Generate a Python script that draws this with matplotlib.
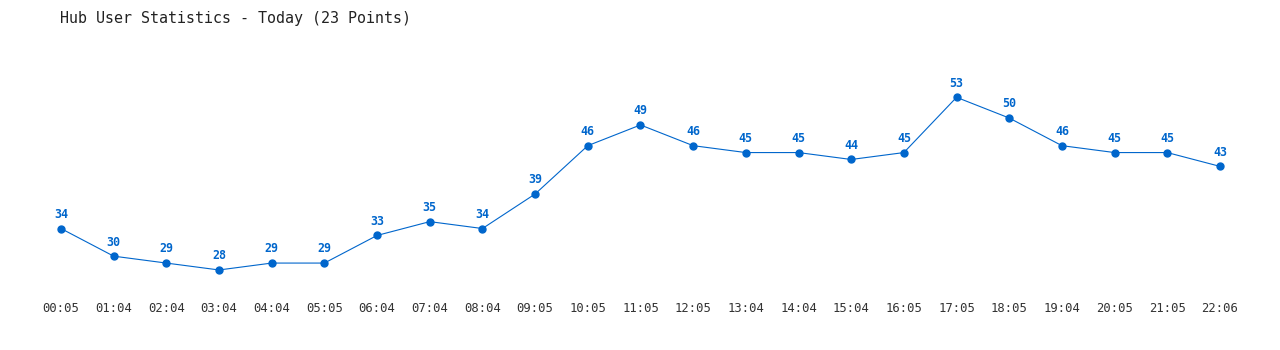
import matplotlib
matplotlib.use("Agg")
import matplotlib.pyplot as plt

TITLE = "Hub User Statistics - Today (23 Points)"
times = ["00:05", "01:04", "02:04", "03:04", "04:04", "05:05", "06:04", "07:04",
         "08:04", "09:05", "10:05", "11:05", "12:05", "13:04", "14:04", "15:04",
         "16:05", "17:05", "18:05", "19:04", "20:05", "21:05", "22:06"]
users = [34, 30, 29, 28, 29, 29, 33, 35, 34, 39, 46, 49, 46, 45, 45, 44, 45,
         53, 50, 46, 45, 45, 43]

BLUE = "#0066cc"

def main():
    fig = plt.figure(figsize=(12.8, 3.5), dpi=100)
    # axes placed in pixels: left 30, right 1250, bottom 290 from top, top 40
    ax = fig.add_axes([30 / 1280, (350 - 290) / 350, 1220 / 1280, 250 / 350])
    x = list(range(len(users)))
    ax.plot(x, users, color=BLUE, linewidth=0.8, marker="o", markersize=5)
    for i, v in enumerate(users):
        ax.annotate(str(v), (i, v), xytext=(0, 5.5), textcoords="offset points",
                    ha="center", va="bottom", color=BLUE, fontsize=8.4,
                    fontweight="bold", family="DejaVu Sans Mono")

    ax.set_xlim(-0.588, 22.57)
    ax.set_ylim(25.1, 61.3)
    ax.set_xticks(x)
    ax.set_xticklabels(times, family="DejaVu Sans Mono", fontsize=8.8, color="#333333")
    ax.tick_params(axis="x", length=0, pad=9)
    ax.set_yticks([])
    for s in ax.spines.values():
        s.set_visible(False)

    fig.text(60 / 1280, 1 - 18 / 350, TITLE, family="DejaVu Sans Mono",
             fontsize=10.8, color="#222222", ha="left", va="center")

    fig.savefig("out.png", dpi=100)

if __name__ == "__main__":
    main()
